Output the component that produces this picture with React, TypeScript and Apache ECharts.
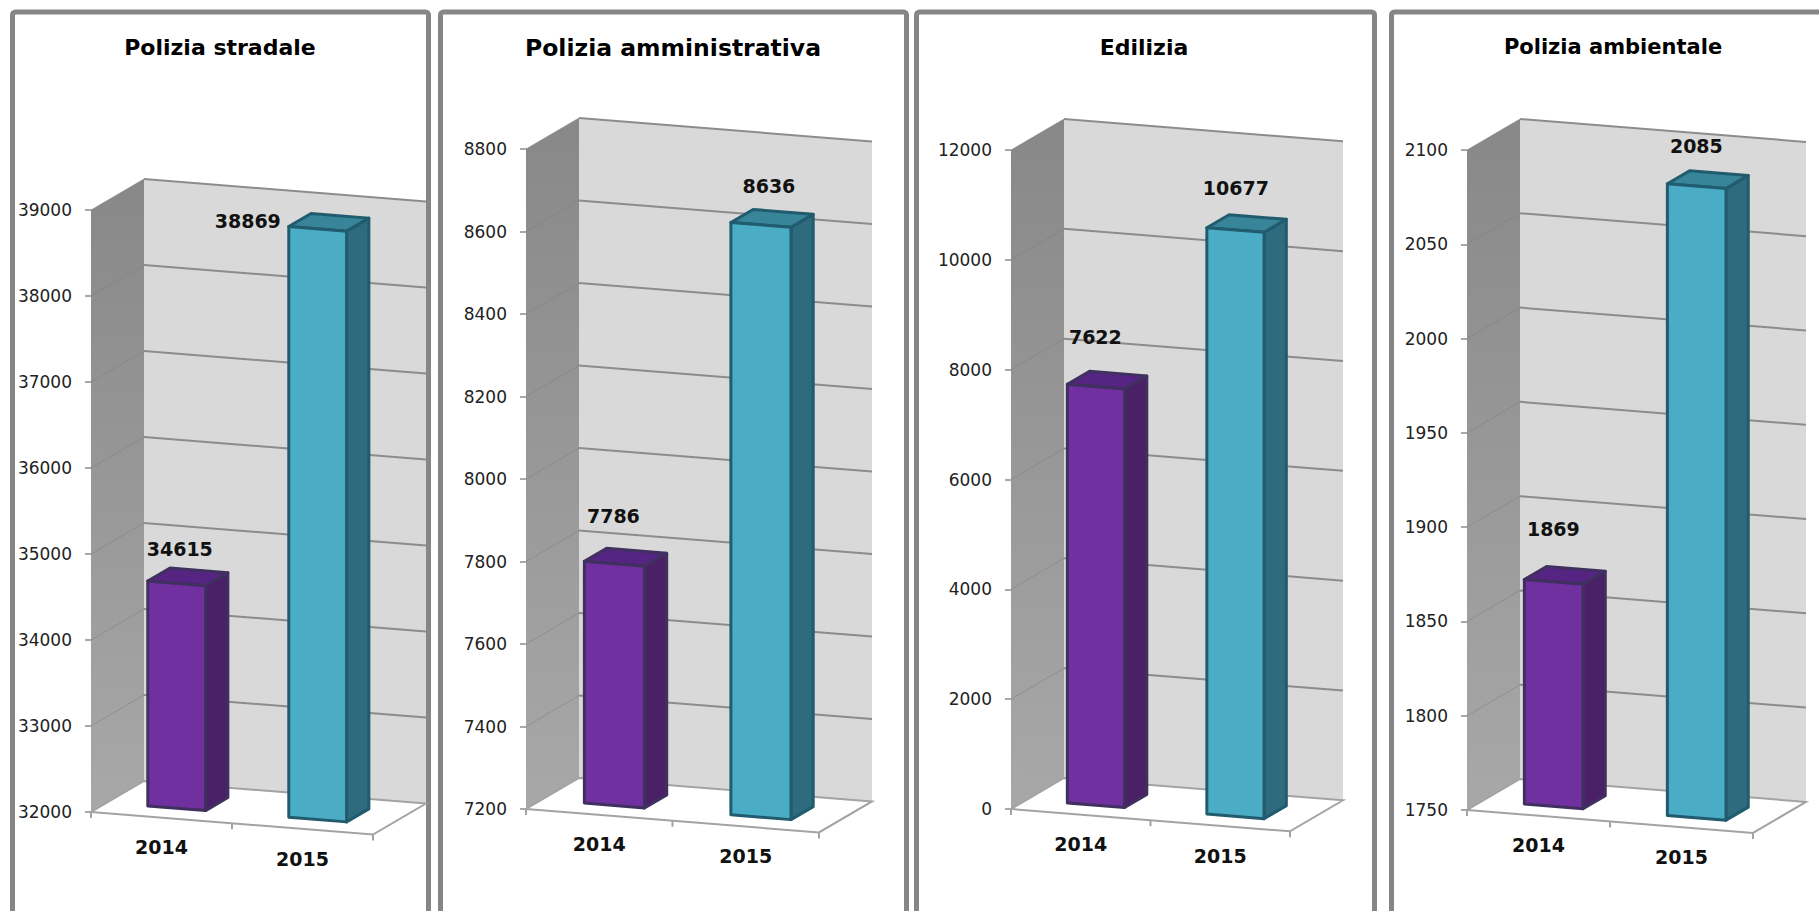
import React, { useEffect, useRef } from "react";
import * as echarts from "echarts";

const categories = ["2014", "2015"];
const titles = ["Polizia stradale", "Polizia amministrativa", "Edilizia", "Polizia ambientale"];

const stradaleValues = [34615, 38869];
const amministrativaValues = [7786, 8636];
const ediliziaValues = [7622, 10677];
const ambientaleValues = [1869, 2085];

const stradaleTicks = [32000, 33000, 34000, 35000, 36000, 37000, 38000, 39000];
const amministrativaTicks = [7200, 7400, 7600, 7800, 8000, 8200, 8400, 8600, 8800];
const ediliziaTicks = [0, 2000, 4000, 6000, 8000, 10000, 12000];
const ambientaleTicks = [1750, 1800, 1850, 1900, 1950, 2000, 2050, 2100];

const allValues = [stradaleValues, amministrativaValues, ediliziaValues, ambientaleValues];
const allTicks = [stradaleTicks, amministrativaTicks, ediliziaTicks, ambientaleTicks];

// Layout only: frame box, plot box, and where each value label sits relative to its bar.
const frames = [
  { x: 12.5, w: 416 },
  { x: 440.5, w: 466 },
  { x: 916.5, w: 458 },
  { x: 1391.5, w: 500 },
];
const plots = [
  { left: 91, width: 282, top: 210, bottom: 812, titleX: 215, titleSize: 22, labelOffsets: [[32, -32], [-41, -6]] },
  { left: 526, width: 293, top: 149, bottom: 809, titleX: 668, titleSize: 23.5, labelOffsets: [[29, -45], [38, -36]] },
  { left: 1011, width: 279, top: 150, bottom: 809, titleX: 1139, titleSize: 22, labelOffsets: [[28, -47], [29, -40]] },
  { left: 1467, width: 286, top: 150, bottom: 810, titleX: 1608, titleSize: 21, labelOffsets: [[29, -51], [29, -38]] },
];
const DEPTH_X = 53;
const DEPTH_Y = -31;
const SLOPE = 0.08;
const BAR_START = 0.29;
const BAR_WIDTH = 0.41;
const BAR_D0 = 0.3;
const BAR_D1 = 0.72;

const barColors = [
  { front: "#7030a0", side: "#4a2066", top: "#562482", edge: "#40305f" },
  { front: "#4bacc6", side: "#2f6b7e", top: "#388498", edge: "#215b6e" },
];
const GREY_LINE = "#8c8c8c";
const EDGE_LINE = "#a3a3a3";
const SANS = '"DejaVu Sans", sans-serif';

function projector(cs: any) {
  const band = cs.width / 2;
  return (u: number, y: number, d: number) => [
    cs.x + u * band + d * DEPTH_X,
    y + SLOPE * u * band + d * DEPTH_Y,
  ];
}

function wallsItem(params: any, api: any, ticks: number[]) {
  const cs = params.coordSys;
  const pt = projector(cs);
  const yMin = api.coord([0, ticks[0]])[1];
  const yMax = api.coord([0, ticks[ticks.length - 1]])[1];
  const children: any[] = [
    {
      type: "polygon",
      shape: { points: [pt(0, yMin, 1), pt(2, yMin, 1), pt(2, yMax, 1), pt(0, yMax, 1)] },
      style: { fill: "#d9d9d9" },
    },
    {
      type: "polygon",
      shape: { points: [pt(0, yMin, 0), pt(0, yMin, 1), pt(0, yMax, 1), pt(0, yMax, 0)] },
      style: {
        fill: new echarts.graphic.LinearGradient(0, 0, 0, 1, [
          { offset: 0, color: "#888888" },
          { offset: 1, color: "#a8a8a8" },
        ]),
      },
    },
    {
      type: "polyline",
      shape: { points: [pt(0, yMin, 1), pt(2, yMin, 1), pt(2, yMin, 0), pt(0, yMin, 0), pt(0, yMin, 1)] },
      style: { fill: "none", stroke: EDGE_LINE, lineWidth: 2 },
    },
  ];
  [0, 1, 2].forEach((u) => {
    const p = pt(u, yMin, 0);
    children.push({
      type: "line",
      shape: { x1: p[0], y1: p[1], x2: p[0], y2: p[1] + 6 },
      style: { stroke: EDGE_LINE, lineWidth: 2 },
    });
  });
  return { type: "group", children };
}

function gridItem(params: any, api: any, ticks: number[]) {
  const cs = params.coordSys;
  const pt = projector(cs);
  const v = api.value(1);
  if (v === ticks[0]) return { type: "group", children: [] };
  const y = api.coord([0, v])[1];
  const a = pt(0, y, 0);
  const b = pt(0, y, 1);
  const c = pt(2, y, 1);
  return {
    type: "group",
    children: [
      { type: "line", shape: { x1: a[0], y1: a[1], x2: b[0], y2: b[1] }, style: { stroke: "#7f7f7f", lineWidth: 1, opacity: 0.55 } },
      { type: "line", shape: { x1: b[0], y1: b[1], x2: c[0], y2: c[1] }, style: { stroke: GREY_LINE, lineWidth: 2 } },
    ],
  };
}

function barItem(params: any, api: any, ticks: number[], offsets: number[][]) {
  const cs = params.coordSys;
  const pt = projector(cs);
  const i = params.dataIndex;
  const v = api.value(1);
  const yTop = api.coord([i, v])[1];
  const yBase = api.coord([i, ticks[0]])[1];
  const u0 = i + BAR_START;
  const u1 = u0 + BAR_WIDTH;
  const col = barColors[i];
  const stroke = { stroke: col.edge, lineWidth: 3, lineJoin: "round" };
  const anchor = pt(u0, yTop, BAR_D0);
  return {
    type: "group",
    children: [
      {
        type: "polygon",
        shape: { points: [pt(u1, yBase, BAR_D0), pt(u1, yBase, BAR_D1), pt(u1, yTop, BAR_D1), pt(u1, yTop, BAR_D0)] },
        style: { fill: col.side, ...stroke },
      },
      {
        type: "polygon",
        shape: { points: [pt(u0, yTop, BAR_D0), pt(u1, yTop, BAR_D0), pt(u1, yTop, BAR_D1), pt(u0, yTop, BAR_D1)] },
        style: { fill: col.top, ...stroke },
      },
      {
        type: "polygon",
        shape: { points: [pt(u0, yBase, BAR_D0), pt(u1, yBase, BAR_D0), pt(u1, yTop, BAR_D0), pt(u0, yTop, BAR_D0)] },
        style: { fill: col.front, ...stroke },
      },
      {
        type: "text",
        style: {
          text: String(v),
          x: anchor[0] + offsets[i][0],
          y: anchor[1] + offsets[i][1],
          align: "center",
          verticalAlign: "middle",
          font: `bold 19px ${SANS}`,
          fill: "#111111",
        },
      },
    ],
  };
}

function buildOption() {
  const grid: any[] = [];
  const xAxis: any[] = [];
  const yAxis: any[] = [];
  const series: any[] = [];
  plots.forEach((p, k) => {
    const ticks = allTicks[k];
    grid.push({ left: p.left, top: p.top, width: p.width, height: p.bottom - p.top, containLabel: false });
    xAxis.push({
      type: "category",
      gridIndex: k,
      data: categories,
      boundaryGap: true,
      axisLine: { show: false },
      axisTick: { show: false },
      axisLabel: {
        margin: 25,
        interval: 0,
        formatter: (val: string, idx: number) => (idx === 0 ? `{a|${val}}` : `{b|${val}}`),
        rich: {
          a: { fontFamily: SANS, fontWeight: "bold", fontSize: 19, color: "#111111" },
          b: { fontFamily: SANS, fontWeight: "bold", fontSize: 19, color: "#111111", padding: [12, 0, 0, 0] },
        },
      },
    });
    yAxis.push({
      type: "value",
      gridIndex: k,
      min: ticks[0],
      max: ticks[ticks.length - 1],
      interval: ticks[1] - ticks[0],
      splitLine: { show: false },
      axisLine: { show: true, lineStyle: { color: "#999999", width: 1 } },
      axisTick: { show: true, length: 6, lineStyle: { color: GREY_LINE, width: 1.5 } },
      axisLabel: {
        margin: 19,
        padding: [3, 0, 0, 0],
        fontFamily: SANS,
        fontSize: 17,
        color: "#222222",
        formatter: (val: number) => String(val),
      },
    });
    series.push({
      type: "custom",
      xAxisIndex: k,
      yAxisIndex: k,
      z: 2,
      silent: true,
      data: [[categories[0], ticks[0]]],
      encode: { x: 0, y: 1 },
      renderItem: (params: any, api: any) => wallsItem(params, api, ticks),
    });
    series.push({
      type: "custom",
      xAxisIndex: k,
      yAxisIndex: k,
      z: 3,
      silent: true,
      data: ticks.map((t) => [categories[0], t]),
      encode: { x: 0, y: 1 },
      renderItem: (params: any, api: any) => gridItem(params, api, ticks),
    });
    series.push({
      type: "custom",
      name: titles[k],
      xAxisIndex: k,
      yAxisIndex: k,
      z: 4,
      silent: true,
      data: allValues[k].map((v, i) => [categories[i], v]),
      encode: { x: 0, y: 1 },
      renderItem: (params: any, api: any) => barItem(params, api, ticks, p.labelOffsets),
    });
  });
  return {
    animation: false,
    backgroundColor: "#ffffff",
    title: titles.map((t, k) => ({
      text: t,
      left: plots[k].titleX,
      top: 31,
      textAlign: "center",
      textStyle: { fontFamily: SANS, fontWeight: "bold", fontSize: plots[k].titleSize, color: "#000000" },
    })),
    graphic: {
      elements: frames.map((f) => ({
        type: "rect",
        z: 0,
        silent: true,
        shape: { x: f.x, y: 12, width: f.w, height: 1000, r: 3 },
        style: { fill: "#ffffff", stroke: "#868686", lineWidth: 5 },
      })),
    },
    grid,
    xAxis,
    yAxis,
    series,
  };
}

export default function App() {
  const ref = useRef<HTMLDivElement>(null);
  useEffect(() => {
    document.body.style.margin = "0";
    const chart = echarts.init(ref.current!, undefined, { renderer: "svg" });
    chart.setOption(buildOption() as any);
    return () => chart.dispose();
  }, []);
  return <div ref={ref} style={{ width: 1819, height: 911, overflow: "hidden" }} />;
}
